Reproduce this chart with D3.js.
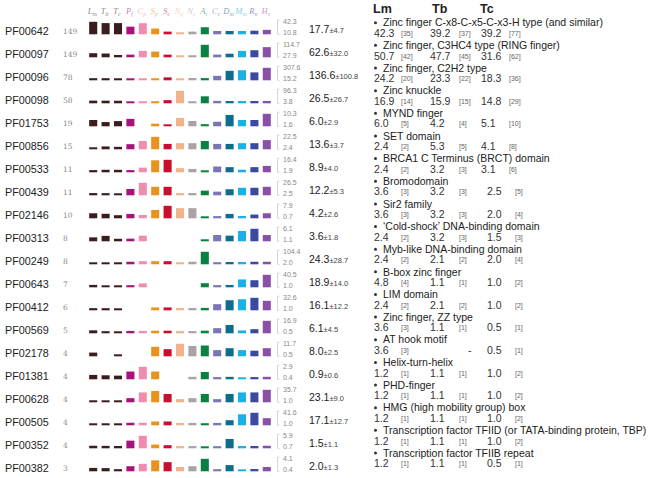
<!DOCTYPE html>
<html>
<head>
<meta charset="utf-8">
<script src="https://cdn.jsdelivr.net/npm/d3@7"></script>
<style>
  body { margin: 0; background: #fff; }
  svg { display: block; }
</style>
</head>
<body>
<svg id="chart" width="662" height="478"></svg>
<script>
// species shown as small bars (first three are the kinetoplastids)
const species = ['Lm', 'Tb', 'Tc', 'Pf', 'Cp', 'Sp', 'Sc', 'Ng', 'Nc', 'At', 'Ce', 'Dm', 'Mm', 'Rn', 'Hs'];
const speciesColors = ['#3b1d1f', '#3b1d1f', '#3b1d1f', '#a8127c', '#ef8db0', '#e8931c', '#c8102e',
  '#f2b38a', '#aba3a3', '#0b8043', '#7b75b5', '#0e6d8c', '#1bb1e2', '#3b4aa0', '#8a50a8'];

const families = ['PF00642', 'PF00097', 'PF00096', 'PF00098', 'PF01753', 'PF00856', 'PF00533',
  'PF00439', 'PF02146', 'PF00313', 'PF00249', 'PF00643', 'PF00412', 'PF00569', 'PF02178',
  'PF01381', 'PF00628', 'PF00505', 'PF00352', 'PF00382'];
const familyCounts = [149, 149, 78, 58, 19, 15, 11, 11, 10, 8, 8, 7, 6, 5, 4, 4, 4, 4, 4, 3];

const descriptions = [
  'Zinc finger C-x8-C-x5-C-x3-H type (and similar)',
  'Zinc finger, C3HC4 type (RING finger)',
  'Zinc finger, C2H2 type',
  'Zinc knuckle',
  'MYND finger',
  'SET domain',
  'BRCA1 C Terminus (BRCT) domain',
  'Bromodomain',
  'Sir2 family',
  '\u2018Cold-shock\u2019 DNA-binding domain',
  'Myb-like DNA-binding domain',
  'B-box zinc finger',
  'LIM domain',
  'Zinc finger, ZZ type',
  'AT hook motif',
  'Helix-turn-helix',
  'PHD-finger',
  'HMG (high mobility group) box',
  'Transcription factor TFIID (or TATA-binding protein, TBP)',
  'Transcription factor TFIIB repeat'
];

// kinetoplastid values and counts (right table)
const lmValues = [42.3, 50.7, 24.2, 16.9, 6.0, 2.4, 2.4, 3.6, 3.6, 2.4, 2.4, 4.8, 2.4, 3.6, 3.6, 1.2, 1.2, 1.2, 1.2, 1.2];
const lmCounts = [35, 42, 20, 14, 5, 2, 2, 3, 3, 2, 2, 4, 2, 3, 3, 1, 1, 1, 1, 1];
const tbValues = [39.2, 47.7, 23.3, 15.9, 4.2, 5.3, 3.2, 3.2, 3.2, 3.2, 2.1, 1.1, 2.1, 1.1, null, 1.1, 1.1, 1.1, 1.1, 1.1];
const tbCounts = [37, 45, 22, 15, 4, 5, 3, 3, 3, 3, 2, 1, 2, 1, null, 1, 1, 1, 1, 1];
const tcValues = [39.2, 31.6, 18.3, 14.8, 5.1, 4.1, 3.1, 2.5, 2.0, 1.5, 2.0, 1.0, 1.0, 0.5, 0.5, 1.0, 1.0, 1.0, 1.0, 0.5];
const tcCounts = [77, 62, 36, 29, 10, 8, 6, 5, 4, 3, 4, 2, 2, 1, 1, 2, 2, 2, 2, 1];

// other species: Pf Cp Sp Sc Ng Nc At Ce Dm Mm Rn Hs
const otherValues = [
  [30.0, 38.9, 24.5, 13.8, 10.8, 13.8, 28.4, 16.2, 16.2, 16.2, 17.4, 20.3],
  [36.1, 71.3, 65.6, 36.1, 27.9, 29.0, 114.7, 36.5, 46.0, 71.0, 76.5, 99.0],
  [15.2, 17.0, 18.0, 65.0, 20.0, 35.0, 30.0, 120.0, 246.0, 259.0, 211.0, 307.6],
  [3.8, 5.0, 6.0, 23.0, 96.3, 6.0, 59.0, 12.5, 10.0, 10.0, 10.0, 11.0],
  [6.9, null, 2.4, 1.6, 7.6, 5.2, 1.8, 4.5, 9.6, 6.0, 6.0, 10.3],
  [10.6, 16.2, 22.5, 11.1, 12.5, 12.5, 16.2, 11.1, 11.1, 12.5, 12.5, 17.7],
  [2.5, 7.1, 15.9, 16.4, 6.3, 4.9, 1.9, 8.7, 7.8, 3.3, 7.8, 9.5],
  [15.1, 26.5, 19.5, 19.5, 3.5, 3.8, 11.2, 8.5, 14.5, 17.6, 17.6, 19.5],
  [3.1, 2.2, 5.7, 7.9, 6.7, 6.7, 0.7, 1.0, 3.1, 1.2, 2.6, 3.6],
  [1.6, 3.3, null, null, null, null, 1.1, 3.6, 3.3, 5.3, 6.1, 3.6],
  [15.0, 23.5, 23.5, 23.5, 5.0, 15.0, 104.4, 5.0, 10.0, 10.0, 15.0, 15.0],
  [2.5, 12.9, null, null, null, null, 14.0, 3.0, 4.5, 27.5, 25.0, 40.5],
  [null, null, 6.4, 6.4, 3.0, 3.5, 4.0, 17.6, 27.4, 29.5, 32.6, 26.0],
  [2.0, 2.0, 2.7, 2.7, 1.5, 1.5, 2.7, 7.6, 12.1, 3.3, 5.9, 16.9],
  [null, null, 9.4, 7.3, 11.7, 10.1, 10.4, 6.4, 8.2, 6.4, 5.8, 8.2],
  [2.0, 2.9, 2.0, null, null, 0.6, 1.9, 0.5, 0.6, 0.4, 0.5, 0.6],
  [12.5, 29.5, 33.0, 25.6, 8.3, 12.5, 25.6, 8.3, 25.6, 29.5, 29.5, 35.7],
  [6.0, 6.0, 13.0, 13.0, 4.8, 4.8, 2.0, 4.8, 18.6, 37.6, 41.6, 25.8],
  [4.0, 5.9, 2.0, 1.6, 0.9, 0.9, 0.7, 0.8, 4.7, 1.0, 1.0, 1.2],
  [1.9, 2.7, 3.7, 3.2, 1.6, 1.9, 4.1, 0.5, 2.3, 0.4, 0.6, 1.6]
];

const means = [17.7, 62.6, 136.6, 26.5, 6.0, 13.6, 8.9, 12.2, 4.2, 3.6, 24.3, 18.9, 16.1, 6.1, 8.0, 0.9, 23.1, 17.1, 1.5, 2.0];
const sds = [4.7, 32.0, 100.8, 26.7, 2.9, 3.7, 4.0, 5.3, 2.6, 1.8, 28.7, 14.0, 12.2, 4.5, 2.5, 0.6, 9.0, 12.7, 1.1, 1.3];

const tableHeaders = ['Lm', 'Tb', 'Tc'];

const sans = 'Liberation Sans, Arial, sans-serif';
const svg = d3.select('#chart');
const fmt = d3.format('.1f');

const x = d3.scaleBand().domain(species).range([87, 273])
  .paddingInner(0.35).paddingOuter(0.175);
const rowY = d3.scalePoint().domain(families).range([30.7, 467.7]);
const descY = d3.scalePoint().domain(families).range([22.7, 453]);

// species header
const head = svg.append('g');
species.forEach((sp, i) => {
  const t = head.append('text')
    .attr('x', x(sp) + x.bandwidth() / 2 - 1)
    .attr('y', 14)
    .attr('text-anchor', 'middle')
    .attr('font-family', 'Liberation Serif, serif')
    .attr('font-style', 'italic')
    .attr('font-size', 8.5)
    .attr('fill', speciesColors[i])
    .attr('fill-opacity', 0.6);
  t.append('tspan').text(sp[0]);
  t.append('tspan').attr('font-size', 6).attr('dy', 1.8).text(sp[1]);
});

families.forEach((fam, i) => {
  const y = rowY(fam);
  const base = y + 3.6;
  const vals = [lmValues[i], tbValues[i], tcValues[i], ...otherValues[i]];
  const ext = d3.extent(vals);
  const h = d3.scalePow().exponent(1.5).domain(ext).range([2, 12.5]);
  const g = svg.append('g');

  g.append('text')
    .attr('x', 5).attr('y', y + 4)
    .attr('font-family', sans).attr('font-size', 10.8).attr('fill', '#222')
    .text(fam);
  g.append('text')
    .attr('x', 63).attr('y', y + 3)
    .attr('font-family', 'DejaVu Serif, serif').attr('font-size', 7.5).attr('fill', '#888')
    .text(familyCounts[i]);

  // bars
  species.forEach((sp, j) => {
    const v = vals[j];
    if (v == null) return;
    g.append('rect')
      .attr('x', x(sp))
      .attr('y', base - h(v))
      .attr('width', x.bandwidth())
      .attr('height', h(v))
      .attr('fill', speciesColors[j]);
  });

  // range bracket and labels
  g.append('path')
    .attr('d', `M279.5,${y - 10.5}H277.5V${base}H279.5`)
    .attr('fill', 'none').attr('stroke', '#ccc').attr('stroke-width', 0.8);
  g.append('text')
    .attr('x', 283).attr('y', y - 6.5)
    .attr('font-family', sans).attr('font-size', 7).attr('fill', '#888')
    .text(fmt(ext[1]));
  g.append('text')
    .attr('x', 283).attr('y', y + 4.2)
    .attr('font-family', sans).attr('font-size', 7).attr('fill', '#888')
    .text(fmt(ext[0]));

  // mean ± sd
  const m = g.append('text')
    .attr('x', 309).attr('y', y + 2.5)
    .attr('font-family', sans).attr('font-size', 10.5).attr('fill', '#222');
  m.append('tspan').text(fmt(means[i]));
  m.append('tspan').attr('font-size', 7.5).attr('fill', '#444').text('\u00b1' + fmt(sds[i]));

  // right description
  const dy = descY(fam);
  g.append('circle')
    .attr('cx', 375.5).attr('cy', dy).attr('r', 1.5).attr('fill', '#333');
  g.append('text')
    .attr('x', 383).attr('y', dy + 3.7)
    .attr('font-family', sans).attr('font-size', 10.5).attr('fill', '#222')
    .text(descriptions[i]);

  const ny = dy + 14.2;
  const tcX = i < 7 ? 481 : 487;
  const cols = [
    { v: lmValues[i], c: lmCounts[i], x: 374, bx: 401 },
    { v: tbValues[i], c: tbCounts[i], x: 430, bx: 459 },
    { v: tcValues[i], c: tcCounts[i], x: tcX, bx: tcX + 28 }
  ];
  cols.forEach(col => {
    if (col.v == null) {
      g.append('text')
        .attr('x', 468).attr('y', ny)
        .attr('font-family', sans).attr('font-size', 10.5).attr('fill', '#333')
        .text('-');
      return;
    }
    g.append('text')
      .attr('x', col.x).attr('y', ny)
      .attr('font-family', sans).attr('font-size', 10.5).attr('fill', '#333')
      .text(fmt(col.v));
    g.append('text')
      .attr('x', col.bx).attr('y', ny - 1)
      .attr('font-family', sans).attr('font-size', 7).attr('fill', '#666')
      .text(`[${col.c}]`);
  });
});

// right table header
tableHeaders.forEach((t, i) => {
  svg.append('text')
    .attr('x', [373, 432, 480][i]).attr('y', 12.5)
    .attr('font-family', sans).attr('font-weight', 'bold').attr('font-size', 12.5)
    .attr('fill', '#222')
    .text(t);
});
</script>
</body>
</html>
